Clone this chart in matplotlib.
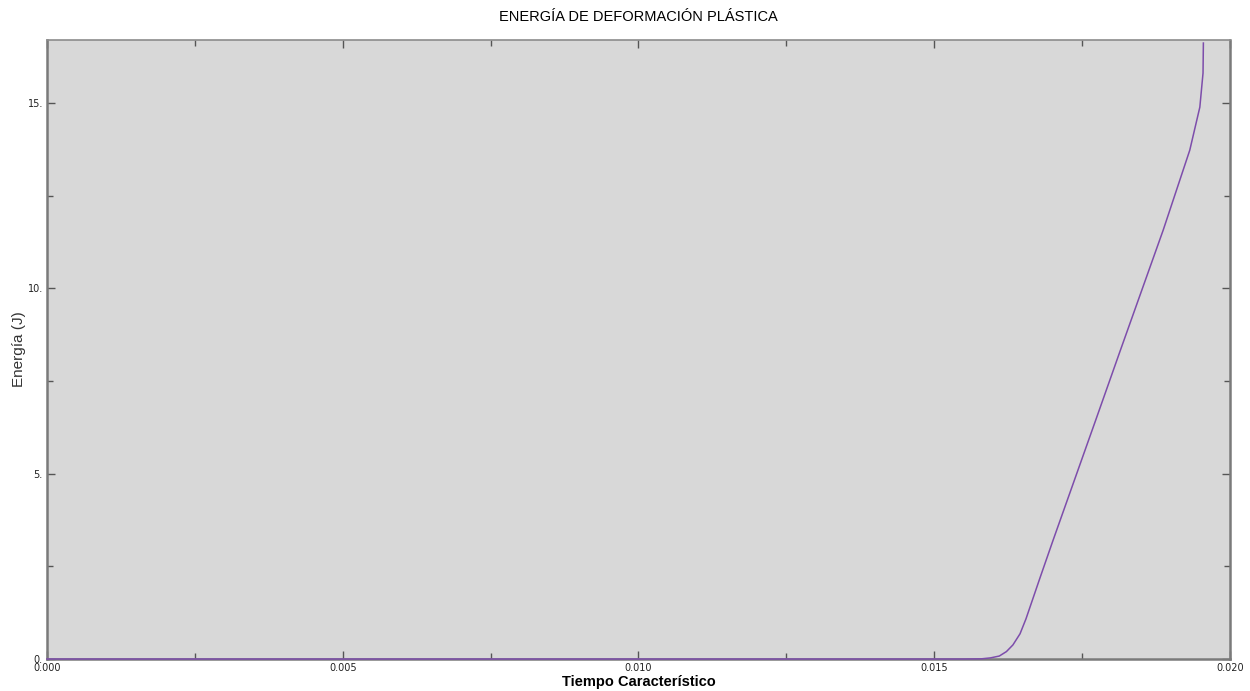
import matplotlib
matplotlib.use("Agg")
import matplotlib.pyplot as plt
from matplotlib.ticker import MultipleLocator, FuncFormatter

# Plastic strain energy over characteristic time
tiempo = [0.0, 0.0155, 0.0158, 0.01595, 0.0161, 0.01622, 0.01633, 0.01645,
          0.01655, 0.01679, 0.01701, 0.017735, 0.01814, 0.01887,
          0.01932, 0.01949, 0.019544, 0.01955]
energia = [0.0, 0.0, 0.005, 0.03, 0.08, 0.2, 0.38, 0.68,
           1.08, 2.2, 3.21, 6.47, 8.3, 11.57,
           13.73, 14.89, 15.81, 16.62]

titulo = "ENERGÍA DE DEFORMACIÓN PLÁSTICA"
etiqueta_x = "Tiempo Característico"
etiqueta_y = "Energía (J)"

fig = plt.figure(figsize=(12.5, 6.91), dpi=100)
ax = fig.add_axes([0.0376, 0.0463, 0.9464, 0.8957])
ax.set_facecolor("#d8d8d8")

ax.plot(tiempo, energia, color="#7d4dab", lw=1.1, clip_on=False, zorder=5)

ax.set_xlim(0.0, 0.020)
ax.set_ylim(0.0, 16.7)

ax.xaxis.set_major_locator(MultipleLocator(0.005))
ax.xaxis.set_minor_locator(MultipleLocator(0.0025))
ax.yaxis.set_major_locator(MultipleLocator(5))
ax.yaxis.set_minor_locator(MultipleLocator(2.5))
ax.xaxis.set_major_formatter(FuncFormatter(lambda v, p: f"{v:.3f}"))
ax.yaxis.set_major_formatter(FuncFormatter(lambda v, p: f"{int(round(v))}."))

ax.tick_params(which="both", direction="in", top=True, right=True,
               colors="#555555", labelcolor="#222222", labelsize=7,
               pad=3, width=1)
ax.tick_params(which="major", length=6)
ax.tick_params(which="minor", length=4)
for lbl in ax.get_xticklabels() + ax.get_yticklabels():
    lbl.set_family("DejaVu Sans")

for side in ("left", "bottom", "right"):
    ax.spines[side].set_color("#7a7a7a")
    ax.spines[side].set_linewidth(1.8)
ax.spines["top"].set_color("#8c8c8c")
ax.spines["top"].set_linewidth(1.2)

ax.set_title(titulo, family="Liberation Sans", fontsize=10.5, pad=14)
ax.set_xlabel(etiqueta_x, family="Liberation Sans", fontsize=10.5,
              fontweight="bold", labelpad=1)
ax.set_ylabel(etiqueta_y, family="Liberation Sans", fontsize=11,
              color="#333333", labelpad=1)

fig.savefig("out.png", dpi=100)
